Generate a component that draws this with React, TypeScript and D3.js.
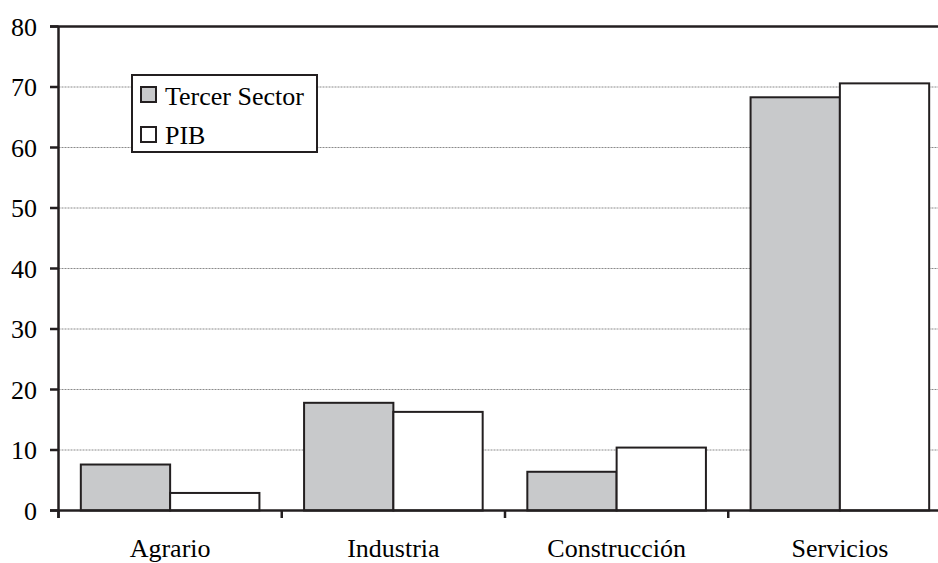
import React from "react";
import * as d3 from "d3";

const categories = ["Agrario", "Industria", "Construcción", "Servicios"];
const seriesNames = ["Tercer Sector", "PIB"];
const tercerSector = [7.6, 17.8, 6.4, 68.3];
const pib = [2.9, 16.3, 10.4, 70.6];
const yTicks = [0, 10, 20, 30, 40, 50, 60, 70, 80];

const W = 938;
const H = 563;
const GRAY = "#c8c9cb";
const STROKE = "#231f20";
const FF = "Liberation Serif, serif";

export default function App() {
  React.useEffect(() => {
    document.body.style.margin = "0";
  }, []);
  const x = d3.scaleBand().domain(categories).range([58.5, 951.5]).paddingInner(0).paddingOuter(0);
  const xs = d3.scaleBand().domain(seriesNames).range([0, x.bandwidth()]).paddingInner(0).paddingOuter(0.25);
  const y = d3.scaleLinear().domain([0, 80]).range([510.5, 26.5]);
  const fills = [GRAY, "#ffffff"];
  const data = [tercerSector, pib];

  return (
    <svg width={W} height={H} fontFamily={FF} fontSize={26} style={{ display: "block", fontFamily: FF }}>
      <rect x={0} y={0} width={W} height={H} fill="#fff" />
      {yTicks.filter((t) => t > 0 && t < 80).map((t) => (
        <line key={"g" + t} x1={58.5} x2={W} y1={y(t)} y2={y(t)} stroke="#8a8a8a" strokeWidth={1} strokeDasharray="2,1" />
      ))}
      <line x1={50} x2={W} y1={y(80)} y2={y(80)} stroke={STROKE} strokeWidth={2.5} />
      {categories.map((c, i) =>
        seriesNames.map((s, j) => {
          const v = data[j][i];
          const x0 = (x(c) as number) + (xs(s) as number);
          return (
            <rect key={c + s} x={x0} y={y(v)} width={xs.bandwidth()} height={y(0) - y(v)} fill={fills[j]} stroke={STROKE} strokeWidth={2} />
          );
        })
      )}
      <line x1={58.5} x2={58.5} y1={y(80)} y2={518} stroke={STROKE} strokeWidth={2.5} />
      {yTicks.map((t) => (
        <line key={"tk" + t} x1={50} x2={58.5} y1={y(t)} y2={y(t)} stroke={STROKE} strokeWidth={2.5} />
      ))}
      {yTicks.map((t) => (
        <text key={"t" + t} x={37} y={y(t) + 9} textAnchor="end" fontFamily={FF} fontSize={26}>{t}</text>
      ))}
      <line x1={50} x2={W} y1={y(0)} y2={y(0)} stroke={STROKE} strokeWidth={2.5} />
      {categories.map((c) => (
        <line key={"xt" + c} x1={x(c) as number} x2={x(c) as number} y1={y(0)} y2={518} stroke={STROKE} strokeWidth={2.5} />
      ))}
      {categories.map((c) => (
        <text key={"x" + c} x={(x(c) as number) + x.bandwidth() / 2} y={557} textAnchor="middle" fontFamily={FF} fontSize={26}>{c}</text>
      ))}
      <rect x={132} y={75} width={185} height={77} fill="#fff" stroke={STROKE} strokeWidth={2} />
      {seriesNames.map((s, j) => (
        <rect key={"ls" + s} x={141} y={87 + j * 40} width={15} height={15} fill={fills[j]} stroke={STROKE} strokeWidth={2} />
      ))}
      {seriesNames.map((s, j) => (
        <text key={"l" + s} x={165} y={105 + j * 39} fontFamily={FF} fontSize={26}>{s}</text>
      ))}
    </svg>
  );
}
